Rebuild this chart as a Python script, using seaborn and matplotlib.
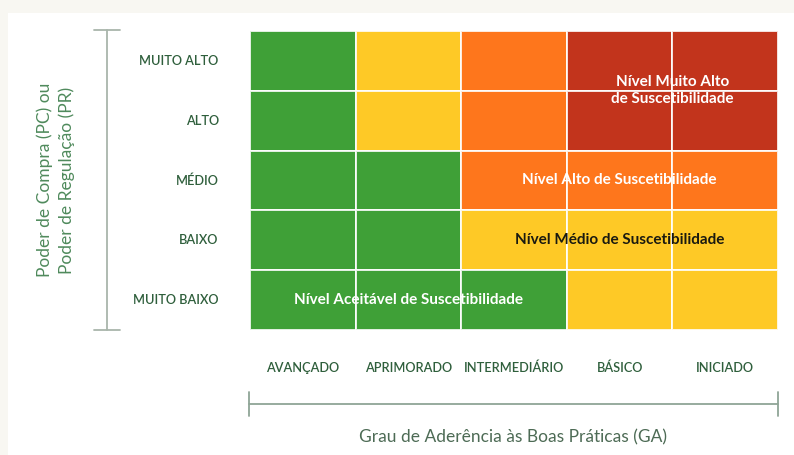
import matplotlib
matplotlib.use("Agg")
import matplotlib.pyplot as plt
from matplotlib.colors import ListedColormap
from matplotlib.lines import Line2D
from matplotlib.patches import Rectangle
import seaborn as sns
import numpy as np
import pandas as pd

# ---- data ----
rows = ["MUITO ALTO", "ALTO", "MÉDIO", "BAIXO", "MUITO BAIXO"]
cols = ["AVANÇADO", "APRIMORADO", "INTERMEDIÁRIO", "BÁSICO", "INICIADO"]
# 0 = aceitável, 1 = médio, 2 = alto, 3 = muito alto
level_muito_alto = [0, 1, 2, 3, 3]
level_alto = [0, 1, 2, 3, 3]
level_medio = [0, 0, 2, 2, 2]
level_baixo = [0, 0, 1, 1, 1]
level_muito_baixo = [0, 0, 0, 1, 1]
level_colors = ["#3fa037", "#fec926", "#fe761c", "#c2341c"]
region_labels = ["Nível Aceitável de Suscetibilidade",
                 "Nível Médio de Suscetibilidade",
                 "Nível Alto de Suscetibilidade",
                 "Nível Muito Alto\nde Suscetibilidade"]
region_pos = [(1.5, 4.5), (3.5, 3.5), (3.5, 2.5), (4.0, 1.0)]
region_text_colors = ["white", "#1a1a10", "white", "white"]

df = pd.DataFrame([level_muito_alto, level_alto, level_medio, level_baixo, level_muito_baixo],
                  index=rows, columns=cols)

sns.set_theme(style="white")
plt.rcParams["font.family"] = ["Lato", "DejaVu Sans"]

W, H = 794, 455
fig = plt.figure(figsize=(W / 100, H / 100), dpi=100)
fig.patch.set_facecolor("#f8f7f2")
fig.add_artist(Rectangle((8 / W, 0), 1, 1 - 13 / H, transform=fig.transFigure,
                         facecolor="white", edgecolor="none", zorder=-10))

x0, x1, y0, y1 = 250, 778, 31, 330
ax = fig.add_axes([x0 / W, 1 - y1 / H, (x1 - x0) / W, (y1 - y0) / H])
sns.heatmap(df, ax=ax, cmap=ListedColormap(level_colors), vmin=-0.5, vmax=3.5,
            cbar=False, linewidths=1.3, linecolor=(1, 1, 1, 0.85))

tick_color = "#2f5f3c"
ax.tick_params(axis="both", length=0)
ax.tick_params(axis="y", pad=22.5)
ax.tick_params(axis="x", pad=23)
ax.set_yticklabels(rows, rotation=0, fontsize=9.2, color=tick_color, fontweight="semibold")
ax.set_xticklabels(cols, rotation=0, fontsize=9.2, color=tick_color, fontweight="semibold")
ax.set_xlabel("")
ax.set_ylabel("")

for lab, (px, py), tc in zip(region_labels, region_pos, region_text_colors):
    ax.text(px, py, lab, ha="center", va="center", color=tc, fontsize=11,
            fontweight="bold", linespacing=1.25)

# brackets
brk = "#a9b5ab"
def fl(xa, ya, xb, yb, color=brk, lw=1.3):
    fig.add_artist(Line2D([xa / W, xb / W], [1 - ya / H, 1 - yb / H],
                          transform=fig.transFigure, color=color, lw=lw))

fl(107, 30, 107, 330)
fl(94, 30, 120, 30)
fl(94, 330, 120, 330)

xb = "#8fa596"
fl(249, 404, 778, 404, color=xb)
fl(249, 392, 249, 416, color=xb)
fl(778, 392, 778, 416, color=xb)

fig.text(56 / W, 1 - 180 / H, "Poder de Compra (PC) ou\nPoder de Regulação (PR)",
         rotation=90, ha="center", va="center", fontsize=12.5, color="#4f8a5c",
         linespacing=1.4)
fig.text(513 / W, 1 - 437 / H, "Grau de Aderência às Boas Práticas (GA)",
         ha="center", va="center", fontsize=12.5, color="#4d6b55")

fig.savefig("out.png", dpi=100, facecolor=fig.get_facecolor())
